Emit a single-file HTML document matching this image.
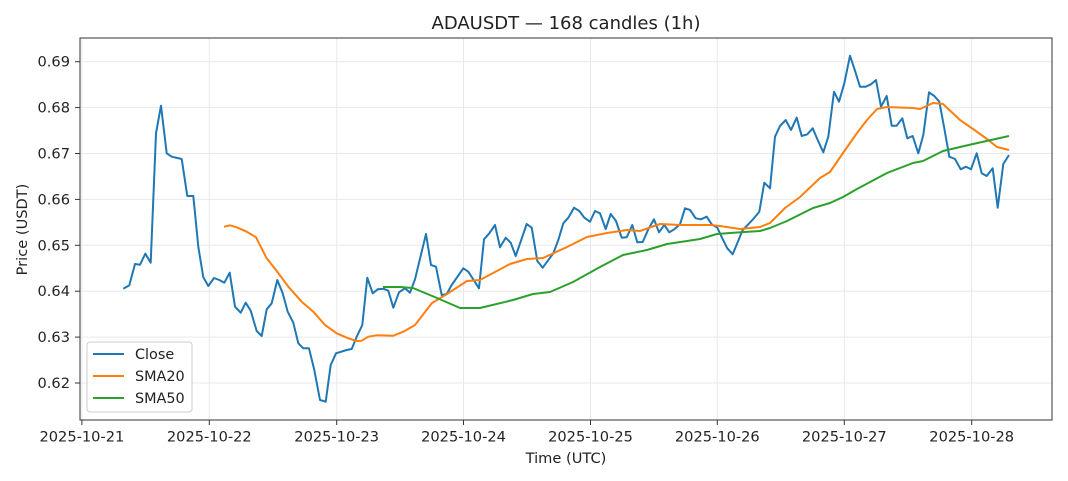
<!DOCTYPE html>
<html><head><meta charset="utf-8"><style>
body{margin:0;background:#fff;}
svg{display:block;font-family:"DejaVu Sans","Liberation Sans",sans-serif;}
</style></head><body>
<svg width="1068" height="481" viewBox="0 0 1068 481" xmlns="http://www.w3.org/2000/svg">
<rect width="1068" height="481" fill="#fff"/>
<g stroke="#e6e9ee" stroke-width="1">
<line x1="80" x2="1052" y1="61.7" y2="61.7"/><line x1="80" x2="1052" y1="107.6" y2="107.6"/>
<line x1="80" x2="1052" y1="153.5" y2="153.5"/><line x1="80" x2="1052" y1="199.4" y2="199.4"/>
<line x1="80" x2="1052" y1="245.3" y2="245.3"/><line x1="80" x2="1052" y1="291.2" y2="291.2"/>
<line x1="80" x2="1052" y1="337.1" y2="337.1"/><line x1="80" x2="1052" y1="383" y2="383"/>
<line y1="38" y2="420" x1="81.9" x2="81.9"/><line y1="38" y2="420" x1="209.3" x2="209.3"/>
<line y1="38" y2="420" x1="336.7" x2="336.7"/><line y1="38" y2="420" x1="463.5" x2="463.5"/>
<line y1="38" y2="420" x1="590.5" x2="590.5"/><line y1="38" y2="420" x1="717.3" x2="717.3"/>
<line y1="38" y2="420" x1="844.3" x2="844.3"/><line y1="38" y2="420" x1="971.7" x2="971.7"/>
</g>
<g fill="none" stroke-width="2" stroke-linejoin="round">
<polyline stroke="#1f77b4" points="123.3,288.7 129.3,285.3 135,264 140,264.7 145.3,253.7 150.7,262.7 156,133.3 161,105.7 166.7,153.3 171.7,156.7 181.7,159 187.3,196 193.3,196 198.3,246.7 203.3,277.3 208.3,286 214,278 219.3,280 224.3,282.7 229.7,272.7 235,306.7 240.7,312.7 245.7,302.7 250.7,310.7 256.7,331 261.7,336 266.7,309.3 271.7,303.3 277.3,280 282.7,293.3 287.7,311.7 293.3,322.7 298.3,343.3 303.3,348.3 309,348.3 314.3,370 320,400 325.7,401.7 330.7,365 336,353.3 346.7,350 351.7,349 356.7,336.7 362.3,325 367.3,277.7 372.7,293.3 377.7,289.3 383.3,288.7 388.3,290.7 393.3,307.7 399,292.3 405,288.3 410,292.7 415,279.3 426,234 431,265 436,266.7 441.7,295 446.7,294 451.7,285 463.3,268.3 468.3,271.7 479,288.3 484,239.3 489.3,233.3 495,225 500,247.3 505.7,237.7 510.7,242.7 515.7,256 526.7,224 531.7,227.7 537.3,261 542.7,267.7 553.3,253.3 558.3,240 563.3,223.3 568.3,217.7 574,207.7 579.3,211 584.3,217.7 590,221.7 595,211 600,213.3 605.7,229 610.7,214 616,221 621.7,237.7 626.7,237.3 632.3,225 637.3,242.3 642.7,242 648.3,229.3 654,219.3 659,232.3 664.3,225 669.3,232.3 674.3,229.3 680,224.3 685,208.3 690,210 695.7,218.3 701,219.3 706.7,216.7 711.7,224.3 717.3,227.7 722.3,238.3 727.3,248.3 732.7,254.3 742.7,230 748.3,224.3 753.3,219 759.3,211.7 764.3,182.7 770,188.3 775,136.7 780,126 785.7,120 791,130 796.7,117.7 801.7,136 807.3,134.3 812.7,128.3 817.7,140 823.3,152.3 828.3,136.7 834,91.7 839,101.7 844.3,83.3 850,55.7 855,70.7 860,86.7 865.7,86.7 871,84.3 876,80 881,106.7 886.7,96 891.7,125.7 896.7,125.7 902.3,118.3 907.3,138.3 912.7,136 918.3,153.3 923.3,135 929,92.3 934.3,96 939.3,101.7 944.3,128.3 949.3,156.7 955,159 960.7,169.3 966,166.7 971,169.3 976.7,153.3 981.7,173.3 986.7,176 992.7,168.3 997.7,207.7 1003.3,164 1009,155"/>
<polyline stroke="#ff7f0e" points="224,226.7 230,225.3 236.7,227.3 246.7,231.7 256,237.3 266.7,258.3 276.7,271 288.3,286.7 301.7,301.7 313.3,311.7 325,325 336.7,333.3 348.3,338.3 356.7,341 361.7,340.7 368.3,336.7 376.7,335.3 393.3,335.7 403.3,331.7 415,325 432,303 447,294 467,281 480,280 510,264 527,259 543,258 567,247 587,237 607,233 627,230 640,231 660,224 680,225 710,225 720,226 740,229 760,227 770,223 785,208 800,197 820,178 830,172 843,153 857,133 867,120 877,109 887,107 913,108 920,109 933,103 943,104 960,120 973,129 987,139 997,147 1009,150"/>
<polyline stroke="#2ca02c" points="383,287 400,287 413,288 437,298 460,308 480,308 513,300 533,294 550,292 573,282 600,267 623,255 647,250 667,244 687,241 700,239 717,234 730,233 760,231 770,228 787,221 813,208 830,203 843,197 857,189 887,173 913,163 923,161 943,151 973,144 1009,136"/>
</g>
<rect x="80" y="38" width="972" height="382" fill="none" stroke="#333" stroke-width="1"/>
<g stroke="#333" stroke-width="1">
<line x1="75" x2="80" y1="61.7" y2="61.7"/><line x1="75" x2="80" y1="107.6" y2="107.6"/><line x1="75" x2="80" y1="153.5" y2="153.5"/><line x1="75" x2="80" y1="199.4" y2="199.4"/><line x1="75" x2="80" y1="245.3" y2="245.3"/><line x1="75" x2="80" y1="291.2" y2="291.2"/><line x1="75" x2="80" y1="337.1" y2="337.1"/><line x1="75" x2="80" y1="383" y2="383"/>
<line y1="420" y2="425" x1="81.9" x2="81.9"/><line y1="420" y2="425" x1="209.3" x2="209.3"/><line y1="420" y2="425" x1="336.7" x2="336.7"/><line y1="420" y2="425" x1="463.5" x2="463.5"/><line y1="420" y2="425" x1="590.5" x2="590.5"/><line y1="420" y2="425" x1="717.3" x2="717.3"/><line y1="420" y2="425" x1="844.3" x2="844.3"/><line y1="420" y2="425" x1="971.7" x2="971.7"/>
</g>
<g font-size="14.6" fill="#222" text-anchor="end">
<text x="70" y="66.7">0.69</text><text x="70" y="112.6">0.68</text><text x="70" y="158.5">0.67</text><text x="70" y="204.4">0.66</text><text x="70" y="250.3">0.65</text><text x="70" y="296.2">0.64</text><text x="70" y="342.1">0.63</text><text x="70" y="388">0.62</text>
</g>
<g font-size="14.6" fill="#222" text-anchor="middle">
<text x="81.9" y="441.5">2025-10-21</text><text x="209.3" y="441.5">2025-10-22</text><text x="336.7" y="441.5">2025-10-23</text><text x="463.5" y="441.5">2025-10-24</text><text x="590.5" y="441.5">2025-10-25</text><text x="717.3" y="441.5">2025-10-26</text><text x="844.3" y="441.5">2025-10-27</text><text x="971.7" y="441.5">2025-10-28</text>
<text x="566" y="463">Time (UTC)</text>
<text x="566" y="29" font-size="18">ADAUSDT — 168 candles (1h)</text>
<text transform="translate(27,229.5) rotate(-90)">Price (USDT)</text>
</g>
<rect x="87" y="342" width="105" height="70" rx="3" fill="#fff" fill-opacity="0.85" stroke="#ccc"/>
<g stroke-width="2"><line x1="93" x2="124" y1="354" y2="354" stroke="#1f77b4"/><line x1="93" x2="124" y1="376" y2="376" stroke="#ff7f0e"/><line x1="93" x2="124" y1="398" y2="398" stroke="#2ca02c"/></g>
<g font-size="14.4" fill="#222"><text x="135" y="359">Close</text><text x="135" y="381">SMA20</text><text x="135" y="403">SMA50</text></g>
</svg>
</body></html>
